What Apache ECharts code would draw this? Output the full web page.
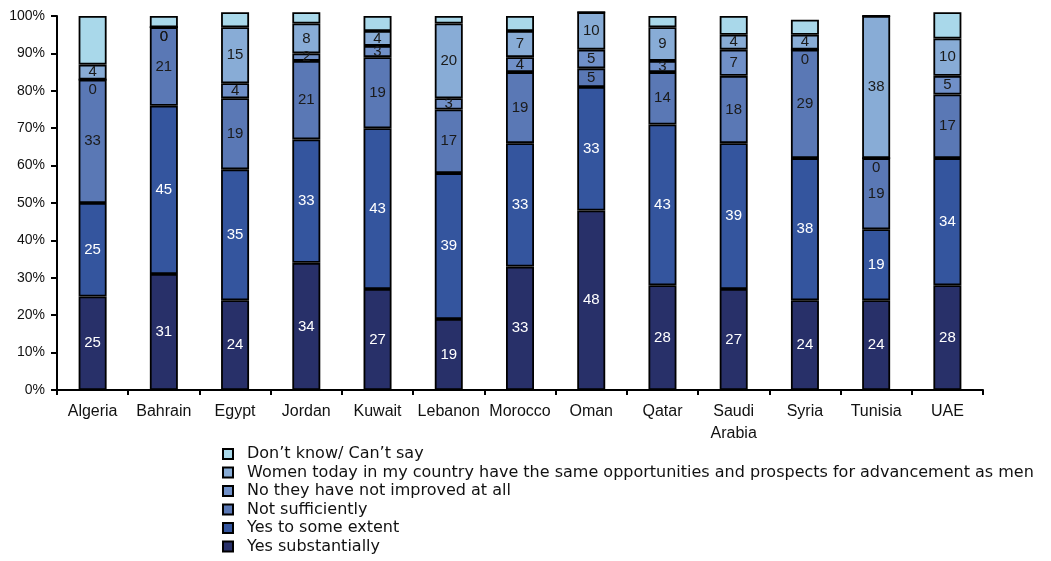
<!DOCTYPE html>
<html><head><meta charset="utf-8">
<script src="https://cdn.jsdelivr.net/npm/echarts@6/dist/echarts.min.js"></script>
<style>html,body{margin:0;padding:0;background:#fff}#c{width:1051px;height:561px}</style>
</head><body><div id="c"></div>
<script>
const categories = ['Algeria','Bahrain','Egypt','Jordan','Kuwait','Lebanon','Morocco','Oman','Qatar','Saudi\nArabia','Syria','Tunisia','UAE'];
const yesSubstantially = [25,31,24,34,27,19,33,48,28,27,24,24,28];
const yesToSomeExtent  = [25,45,35,33,43,39,33,33,43,39,38,19,34];
const notSufficiently  = [33,21,19,21,19,17,19,5,14,18,29,19,17];
const notImprovedAtAll = [0,0,4,2,3,3,4,5,3,7,0,0,5];
const sameOpportunities = [4,0,15,8,4,20,7,10,9,4,4,38,10];
const dontKnow = [13,3,4,3,4,2,4,0,3,5,4,0,7];
const seriesNames = ['Yes substantially','Yes to some extent','Not sufficiently','No they have not improved at all','Women today in my country have the same opportunities and prospects for advancement as men','Don\u2019t know/ Can\u2019t say'];
const yMin = 0, yMax = 100, yStep = 10;

const seriesData = [yesSubstantially, yesToSomeExtent, notSufficiently, notImprovedAtAll, sameOpportunities, dontKnow];
const colors = ['#283069','#34559e','#5a78b5','#7090c8','#88acd6','#a9d8ea'];
const labelColors = ['#ffffff','#ffffff','#1a1a1a','#1a1a1a','#1a1a1a','#1a1a1a'];
const showLabel = [true,true,true,true,true,false];
const sansFont = '"Liberation Sans", Arial, sans-serif';

const chart = echarts.init(document.getElementById('c'));
chart.setOption({
  animation: false,
  backgroundColor: '#ffffff',
  grid: {left: 57, right: 68, top: 16, bottom: 171, containLabel: false},
  legend: {
    orient: 'vertical', left: 217, top: 441,
    itemWidth: 10, itemHeight: 10, itemGap: 2.5,
    icon: 'rect',
    data: seriesNames.slice().reverse(),
    textStyle: {fontFamily: '"DejaVu Sans", sans-serif', fontSize: 16, color: '#111', lineHeight: 16, padding: [0,0,0,9]}
  },
  xAxis: {
    type: 'category', data: categories,
    axisLine: {lineStyle: {color: '#000', width: 2}},
    axisTick: {show: true, length: 5, lineStyle: {color: '#000', width: 2}},
    axisLabel: {interval: 0, fontFamily: sansFont, fontSize: 16, color: '#111', margin: 11, lineHeight: 22}
  },
  yAxis: {
    type: 'value', min: yMin, max: yMax, interval: yStep,
    splitLine: {show: false},
    axisLine: {show: true, lineStyle: {color: '#000', width: 2}},
    axisTick: {show: true, length: 6, lineStyle: {color: '#000', width: 2}},
    axisLabel: {formatter: '{value}%', fontFamily: sansFont, fontSize: 14, color: '#111', margin: 12}
  },
  series: seriesData.map((d, i) => ({
    name: seriesNames[i], type: 'bar', stack: 'total',
    data: d.map(v => v === 0 ? {value: v, label: {offset: [0, 10]}} : v),
    barWidth: 28, clip: false,
    itemStyle: {color: colors[i], borderColor: '#000', borderWidth: 1.8},
    label: {show: showLabel[i], position: 'inside', color: labelColors[i], fontFamily: sansFont, fontSize: 15, formatter: '{c}'}
  }))
});
</script></body></html>
